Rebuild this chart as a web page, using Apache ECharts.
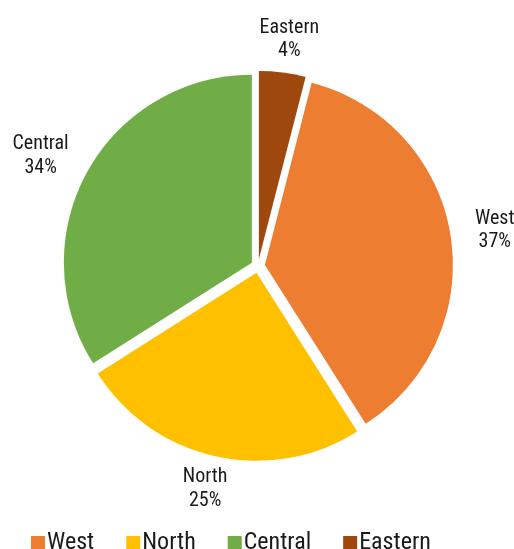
<!DOCTYPE html>
<html>
<head>
<meta charset="utf-8">
<script src="https://cdn.jsdelivr.net/npm/echarts@6/dist/echarts.min.js"></script>
<style>
html,body{margin:0;padding:0;background:#fff;}
#chart{width:514px;height:549px;}
</style>
</head>
<body>
<div id="chart"></div>
<script>
const categories = ['West', 'North', 'Central', 'Eastern'];
const values = [37, 25, 34, 4];
const colors = ['#ED7D31', '#FFC000', '#70AD47', '#9E480E'];

const FONT = "'Liberation Sans Narrow', 'Arial Narrow', 'Roboto Condensed', sans-serif";
const CX = 258, CY = 266, R = 188, OFFSET = 7;
const GAP_X = 25, GAP_Y = 10;
const START = 75.6;
const total = values.reduce((a, b) => a + b, 0);

function sliceInfo(i) {
  let before = 0;
  for (let k = 0; k < i; k++) before += values[k];
  const start = START - before / total * 360;
  const mid = start - values[i] / total * 180;
  const a = mid * Math.PI / 180;
  return { start: start, ux: Math.cos(a), uy: -Math.sin(a) };
}

const series = categories.map((name, i) => {
  const s = sliceInfo(i);
  return {
    type: 'pie',
    name: 'slice-' + i,
    center: [CX + s.ux * OFFSET, CY + s.uy * OFFSET],
    radius: R,
    startAngle: s.start,
    clockwise: true,
    avoidLabelOverlap: false,
    silent: true,
    emphasis: { disabled: true },
    itemStyle: { borderWidth: 0, color: colors[i] },
    label: {
      show: true,
      position: 'outside',
      formatter: p => p.name + '\n' + Math.round(p.percent) + '%',
      fontFamily: FONT,
      fontSize: 20,
      lineHeight: 23.5,
      color: '#1a1a1a',
      align: 'center'
    },
    labelLine: { show: false },
    labelLayout: function (params) {
      const w = params.labelRect.width, h = params.labelRect.height;
      const dx = R + OFFSET + GAP_X, dy = R + OFFSET + GAP_Y;
      return {
        x: CX + s.ux * dx + s.ux * w / 2,
        y: CY + s.uy * dy + s.uy * h / 2,
        align: 'center',
        verticalAlign: 'middle'
      };
    },
    data: [
      { name: name, value: values[i], itemStyle: { color: colors[i] } },
      {
        name: '_rest', value: total - values[i],
        itemStyle: { color: 'rgba(0,0,0,0)' },
        label: { show: false }, labelLine: { show: false }
      }
    ]
  };
});

const chart = echarts.init(document.getElementById('chart'), null, { renderer: 'canvas' });

chart.setOption({
  animation: false,
  backgroundColor: '#ffffff',
  legend: {
    data: categories,
    left: 26,
    top: 526,
    icon: 'rect',
    itemWidth: 14,
    itemHeight: 14,
    itemGap: 32,
    selectedMode: false,
    textStyle: { fontFamily: FONT, fontSize: 24, color: '#1a1a1a', padding: [0, 0, 0, -3] }
  },
  series: series
});
</script>
</body>
</html>
